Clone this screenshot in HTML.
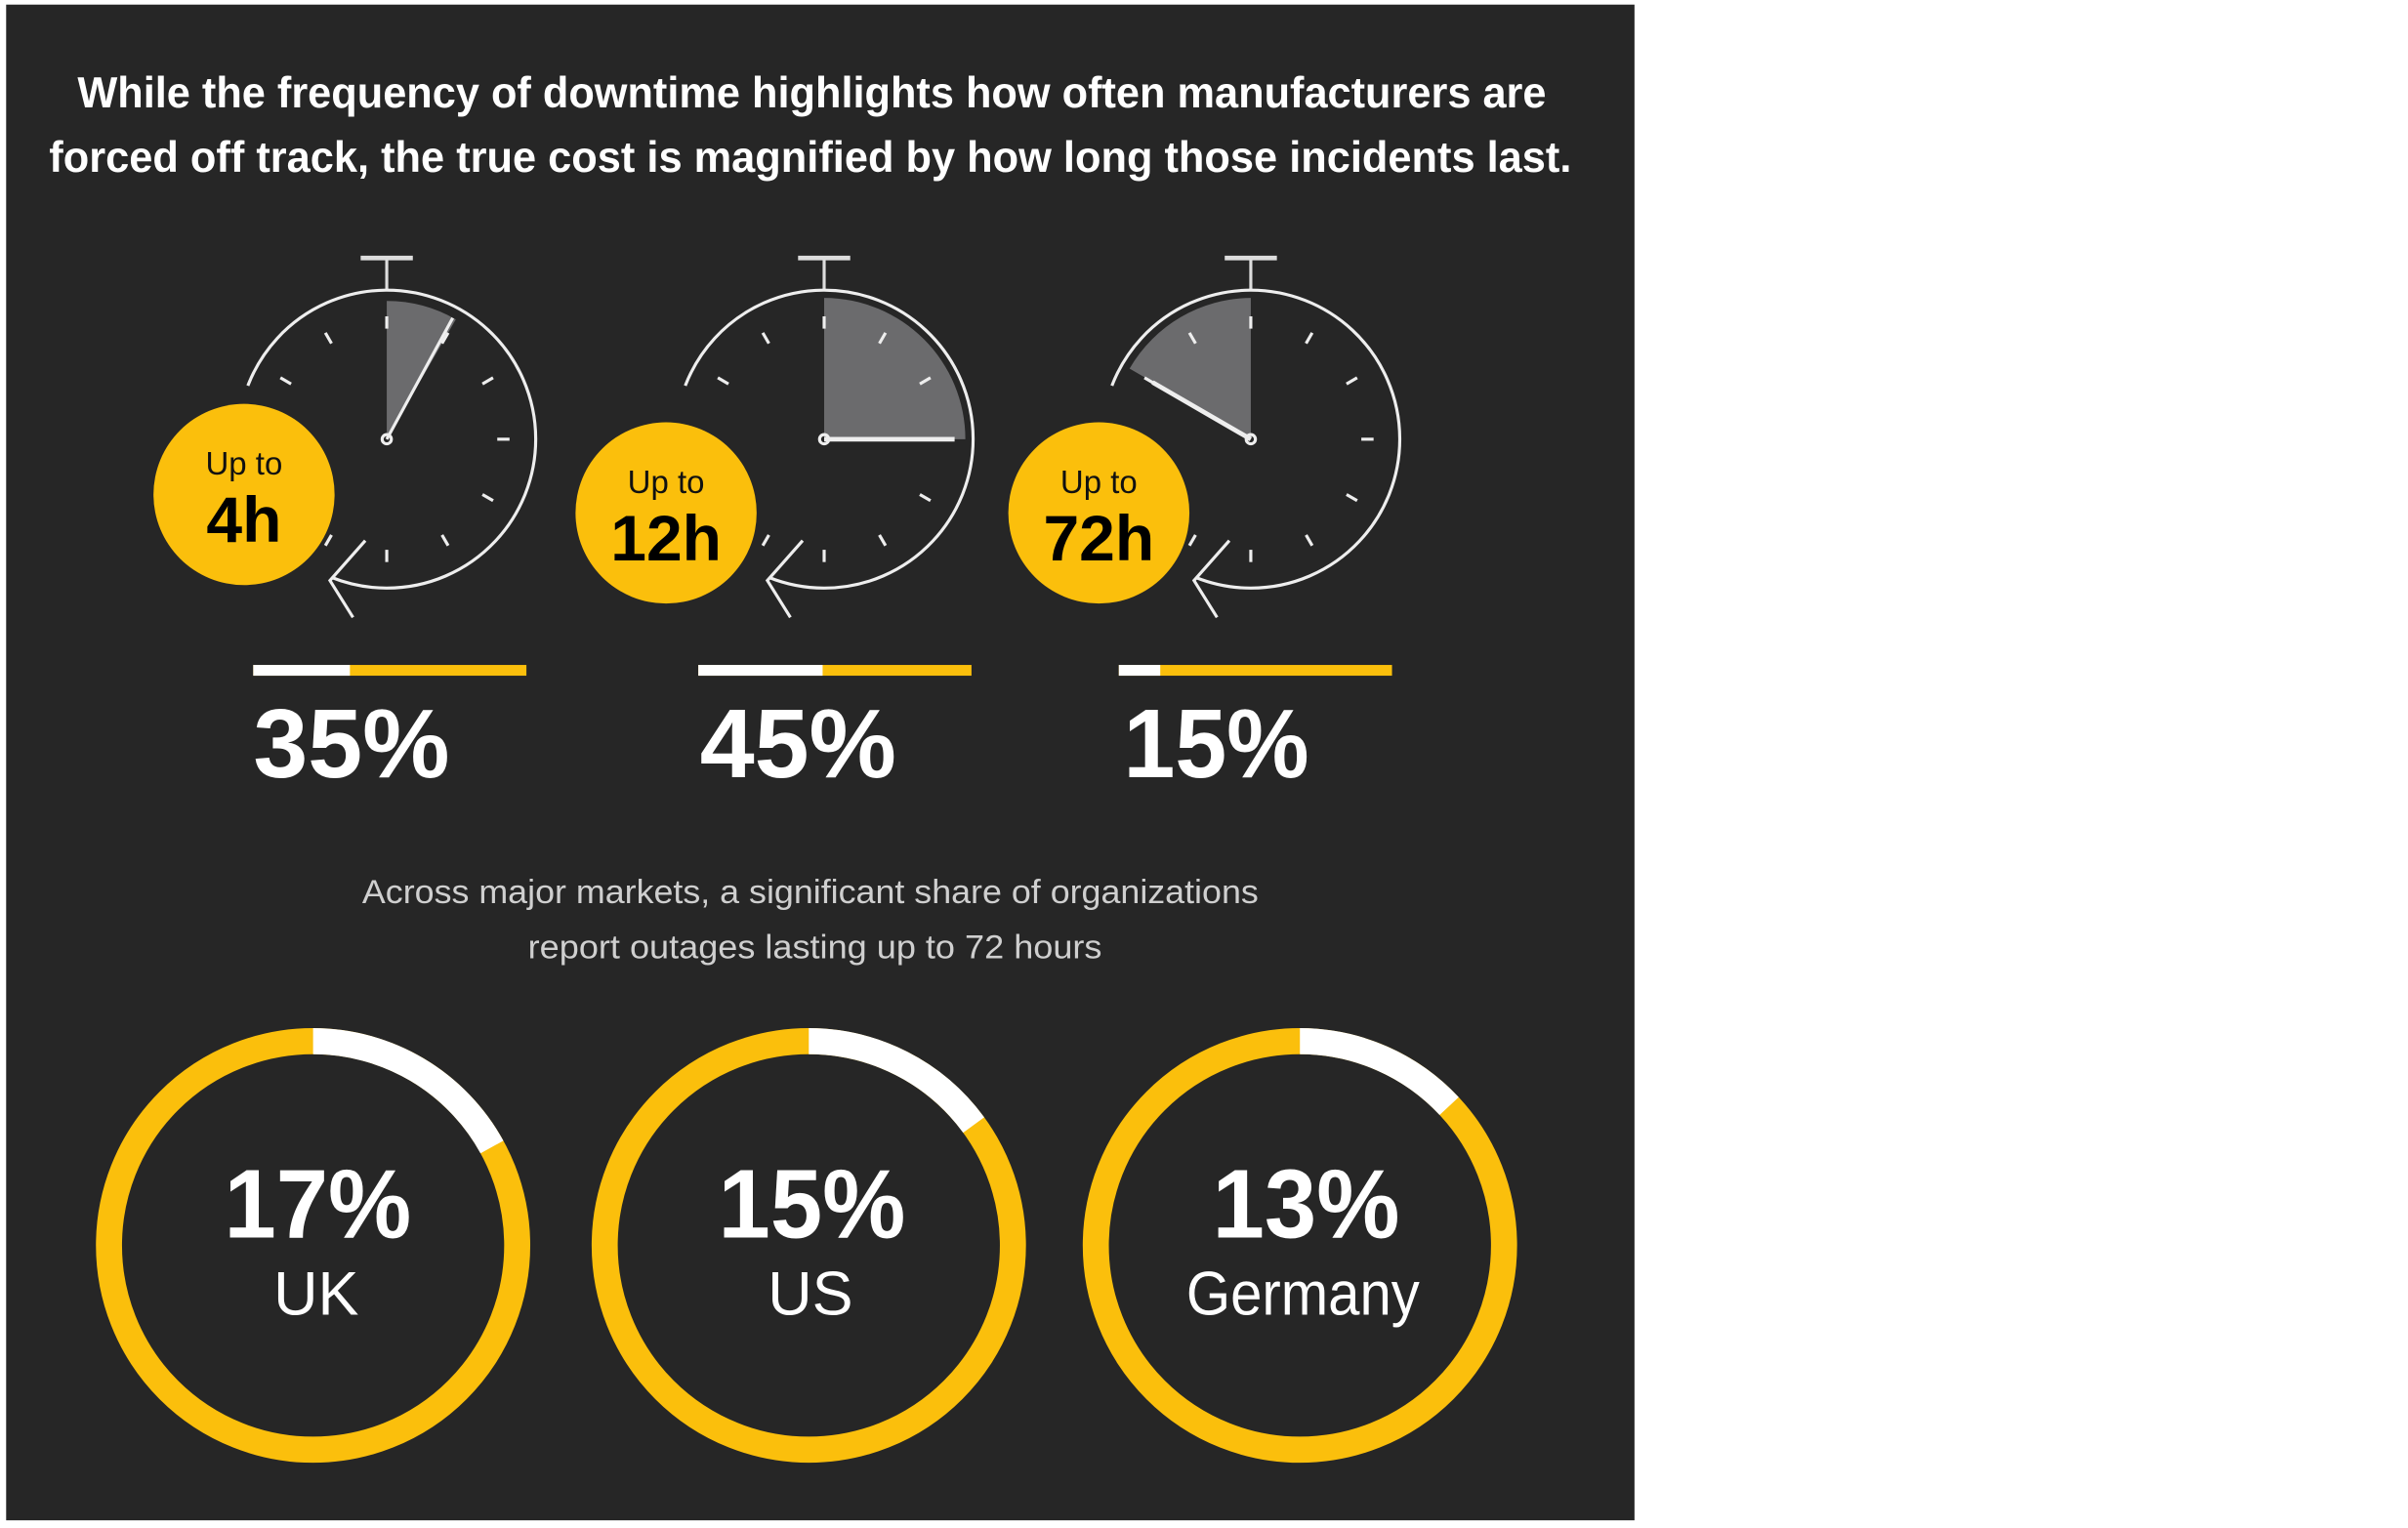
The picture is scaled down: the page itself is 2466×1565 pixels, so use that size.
<!DOCTYPE html>
<html><head><style>
html,body{margin:0;padding:0;background:#fff;}
svg{display:block;}
text{font-family:"Liberation Sans Narrow","Liberation Sans",sans-serif;}
</style></head><body>
<svg width="2466" height="1565" viewBox="0 0 1569 995" preserveAspectRatio="none" xmlns="http://www.w3.org/2000/svg">
<rect x="0" y="0" width="1569" height="995" fill="#fff"/>
<rect x="4" y="3" width="1061" height="987" fill="#262626"/>
<text x="529" y="70" fill="#fff" font-size="28" font-weight="bold" text-anchor="middle" textLength="957" lengthAdjust="spacingAndGlyphs">While the frequency of downtime highlights how often manufacturers are</text>
<text x="528" y="112" fill="#fff" font-size="28" font-weight="bold" text-anchor="middle" textLength="992" lengthAdjust="spacingAndGlyphs">forced off track, the true cost is magnified by how long those incidents last.</text>

<defs>
<g id="clockbase">
  <line x1="-17" y1="-118" x2="17" y2="-118" stroke="#ddd" stroke-width="3"/>
  <line x1="0" y1="-118" x2="0" y2="-97" stroke="#ddd" stroke-width="2"/>
  <path d="M -90.5 -34.8 A 97 97 0 1 1 -36 90" fill="none" stroke="#eee" stroke-width="2"/>
  <polyline points="-14,66 -37,92 -22,116" fill="none" stroke="#eee" stroke-width="2"/>
  <g stroke="#eee" stroke-width="2">
    <line x1="0" y1="-72" x2="0" y2="-80" transform="rotate(0)"/>
    <line x1="0" y1="-72" x2="0" y2="-80" transform="rotate(30)"/>
    <line x1="0" y1="-72" x2="0" y2="-80" transform="rotate(60)"/>
    <line x1="0" y1="-72" x2="0" y2="-80" transform="rotate(90)"/>
    <line x1="0" y1="-72" x2="0" y2="-80" transform="rotate(120)"/>
    <line x1="0" y1="-72" x2="0" y2="-80" transform="rotate(150)"/>
    <line x1="0" y1="-72" x2="0" y2="-80" transform="rotate(180)"/>
    <line x1="0" y1="-72" x2="0" y2="-80" transform="rotate(210)"/>
    <line x1="0" y1="-72" x2="0" y2="-80" transform="rotate(240)"/>
    <line x1="0" y1="-72" x2="0" y2="-80" transform="rotate(270)"/>
    <line x1="0" y1="-72" x2="0" y2="-80" transform="rotate(300)"/>
    <line x1="0" y1="-72" x2="0" y2="-80" transform="rotate(330)"/>
  </g>
  <circle cx="0" cy="0" r="3" fill="none" stroke="#eee" stroke-width="2"/>
</g>
</defs>

<g transform="translate(252,286)">
  <path d="M0 0 L0 -90 A 90 90 0 0 1 45 -78 Z" fill="#6b6b6d"/>
  <use href="#clockbase"/>
  <line x1="0" y1="0" x2="43" y2="-79" stroke="#eee" stroke-width="2"/>
</g>
<g transform="translate(537,286)">
  <path d="M0 0 L0 -92 A 92 92 0 0 1 92 0 Z" fill="#6b6b6d"/>
  <use href="#clockbase"/>
  <line x1="0" y1="0" x2="85" y2="0" stroke="#eee" stroke-width="3"/>
</g>
<g transform="translate(815,286)">
  <path d="M0 0 L-79 -46 A 92 92 0 0 1 0 -92 Z" fill="#6b6b6d"/>
  <use href="#clockbase"/>
  <line x1="0" y1="0" x2="-64" y2="-37" stroke="#eee" stroke-width="3"/>
</g>

<circle cx="159" cy="322" r="59" fill="#fbbf0c"/>
<text x="159" y="309" font-size="21" text-anchor="middle" fill="#111">Up to</text>
<text x="159" y="353" font-size="42" font-weight="bold" text-anchor="middle" fill="#000">4h</text>
<circle cx="434" cy="334" r="59" fill="#fbbf0c"/>
<text x="434" y="321" font-size="21" text-anchor="middle" fill="#111">Up to</text>
<text x="434" y="365" font-size="42" font-weight="bold" text-anchor="middle" fill="#000">12h</text>
<circle cx="716" cy="334" r="59" fill="#fbbf0c"/>
<text x="716" y="321" font-size="21" text-anchor="middle" fill="#111">Up to</text>
<text x="716" y="365" font-size="42" font-weight="bold" text-anchor="middle" fill="#000">72h</text>

<rect x="165" y="433" width="178" height="7" fill="#fbbf0c"/><rect x="165" y="433" width="63" height="7" fill="#fff"/>
<rect x="455" y="433" width="178" height="7" fill="#fbbf0c"/><rect x="455" y="433" width="81" height="7" fill="#fff"/>
<rect x="729" y="433" width="178" height="7" fill="#fbbf0c"/><rect x="729" y="433" width="27" height="7" fill="#fff"/>

<text x="165" y="506" font-size="64" font-weight="bold" fill="#fff" textLength="128" lengthAdjust="spacingAndGlyphs">35%</text>
<text x="456" y="506" font-size="64" font-weight="bold" fill="#fff" textLength="128" lengthAdjust="spacingAndGlyphs">45%</text>
<text x="732" y="506" font-size="64" font-weight="bold" fill="#fff" textLength="121" lengthAdjust="spacingAndGlyphs">15%</text>

<text x="528" y="588" font-size="22" fill="#cfcfcf" text-anchor="middle" textLength="584" lengthAdjust="spacingAndGlyphs">Across major markets, a significant share of organizations</text>
<text x="531" y="624" font-size="22" fill="#cfcfcf" text-anchor="middle" textLength="374" lengthAdjust="spacingAndGlyphs">report outages lasting up to 72 hours</text>

<g transform="translate(204,811) rotate(-90)">
  <circle r="133" fill="none" stroke="#fbbf0c" stroke-width="17"/>
  <circle r="133" fill="none" stroke="#fff" stroke-width="17" stroke-dasharray="142 700"/>
</g>
<g transform="translate(527,811) rotate(-90)">
  <circle r="133" fill="none" stroke="#fbbf0c" stroke-width="17"/>
  <circle r="133" fill="none" stroke="#fff" stroke-width="17" stroke-dasharray="125 720"/>
</g>
<g transform="translate(847,811) rotate(-90)">
  <circle r="133" fill="none" stroke="#fbbf0c" stroke-width="17"/>
  <circle r="133" fill="none" stroke="#fff" stroke-width="17" stroke-dasharray="109 730"/>
</g>

<text x="207" y="806" font-size="64" font-weight="bold" fill="#fff" text-anchor="middle" textLength="122" lengthAdjust="spacingAndGlyphs">17%</text>
<text x="206" y="856" font-size="40" fill="#fff" text-anchor="middle">UK</text>
<text x="529" y="806" font-size="64" font-weight="bold" fill="#fff" text-anchor="middle" textLength="122" lengthAdjust="spacingAndGlyphs">15%</text>
<text x="528" y="856" font-size="40" fill="#fff" text-anchor="middle">US</text>
<text x="851" y="806" font-size="64" font-weight="bold" fill="#fff" text-anchor="middle" textLength="122" lengthAdjust="spacingAndGlyphs">13%</text>
<text x="849" y="856" font-size="40" fill="#fff" text-anchor="middle" textLength="152" lengthAdjust="spacingAndGlyphs">Germany</text>
</svg>
</body></html>
